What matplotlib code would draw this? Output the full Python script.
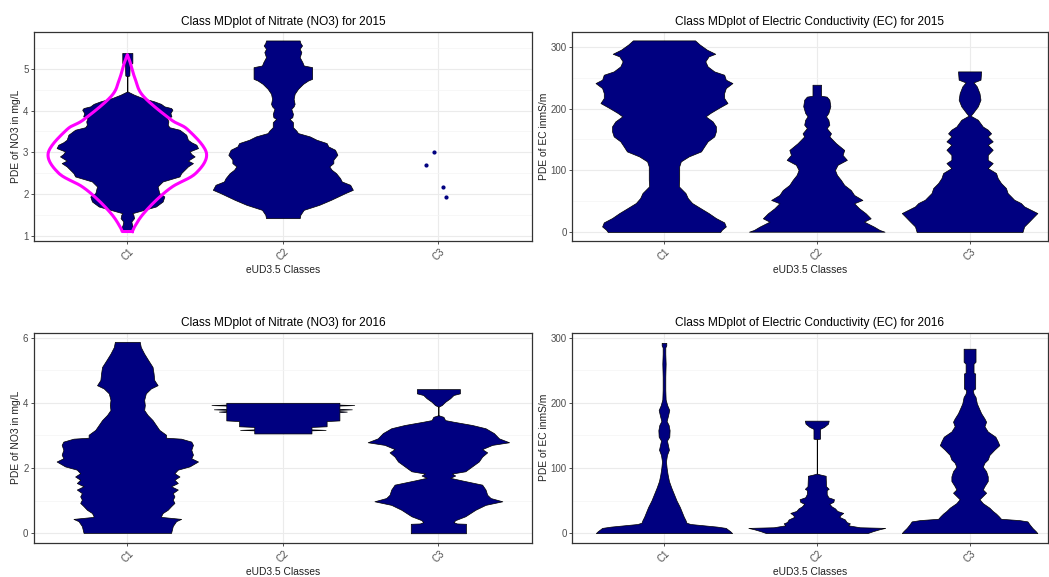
import numpy as np
import matplotlib
matplotlib.use('Agg')
import matplotlib.pyplot as plt

plt.rcParams['font.family'] = ['Liberation Sans', 'DejaVu Sans']

# class labels on the x axis
classes = ['C1', 'C2', 'C3']

# mirrored density profiles: y level and density (half width, arbitrary units)
# Nitrate 2015
no3_15_c1_y = [1.12, 1.18, 1.26, 1.34, 1.42, 1.50, 1.54, 1.62, 1.70, 1.82, 1.94, 2.02, 2.18, 2.30,
               2.36, 2.42, 2.50, 2.58, 2.66, 2.74, 2.80, 2.90, 2.96, 3.02, 3.10, 3.18, 3.24, 3.30,
               3.42, 3.54, 3.60, 3.66, 3.74, 3.82, 3.86, 3.94, 4.02, 4.06, 4.10, 4.16, 4.22, 4.30,
               4.38, 4.46, 4.82, 4.84, 5.10, 5.14, 5.38]
no3_15_c1_d = [14, 18, 14, 12, 20, 18, 15, 50, 85, 105, 110, 95, 90, 105,
               130, 155, 160, 170, 180, 195, 180, 200, 190, 185, 210, 205, 190, 180,
               175, 155, 125, 120, 122, 118, 131, 128, 134, 130, 110, 100, 80, 45,
               20, 0, 0, 6, 7, 15, 15]
no3_15_c2_y = [1.42, 1.50, 1.62, 1.74, 1.86, 2.02, 2.10, 2.22, 2.30, 2.38, 2.50, 2.58, 2.66, 2.74,
               2.82, 2.94, 3.06, 3.14, 3.22, 3.30, 3.38, 3.46, 3.52, 3.60, 3.72, 3.80, 3.84, 3.92,
               4.04, 4.10, 4.16, 4.28, 4.40, 4.52, 4.64, 4.72, 4.76, 5.04, 5.08, 5.16, 5.28, 5.40,
               5.48, 5.56, 5.62, 5.68]
no3_15_c2_d = [50, 52, 62, 108, 143, 185, 208, 200, 175, 170, 158, 145, 138, 150,
               150, 162, 155, 135, 130, 100, 80, 45, 40, 30, 30, 20, 28, 30,
               25, 32, 35, 32, 35, 45, 60, 75, 87, 87, 62, 58, 50, 55,
               50, 57, 52, 50]
no3_15_c3_pts = [3.01, 2.70, 2.16, 1.92]
no3_15_c3_jit = [-0.03, -0.08, 0.03, 0.05]

# normal density sketched over C1 of 2015
pdf_y = [1.10, 1.22, 1.50, 1.86, 2.18, 2.50, 2.98, 3.54, 3.78, 4.34, 4.74, 5.14, 5.34]
pdf_d = [15, 22, 45, 87, 135, 204, 235, 180, 130, 48, 24, 9, 0]

# Electric conductivity 2015
ec_15_c1_y = [0, 3.7, 9, 15.6, 22.6, 30.7, 38.8, 47, 55, 63.2, 74, 84.8, 95.6, 106.4, 114.5,
              122.6, 130.7, 139, 147, 155, 163.2, 171.3, 179.4, 187.5, 193, 201, 209.1, 217.2,
              225.3, 233.4, 241.5, 247, 255, 260.4, 268.5, 276.7, 284.8, 289, 295.6, 304, 310.7]
ec_15_c1_d = [170, 175, 187, 182, 157, 135, 110, 85, 72, 65, 45, 46, 46, 46, 51,
              75, 112, 122, 132, 152, 157, 157, 147, 126, 140, 165, 192, 182,
              182, 187, 207, 187, 182, 152, 132, 125, 135, 155, 130, 108, 94]
ec_15_c2_y = [0.5, 3.3, 8.7, 16.8, 22.2, 30.3, 38.5, 46.6, 52, 60, 68, 76.3, 84.4, 92.5, 100.6,
              109, 117, 125, 133, 144, 155, 160, 168.5, 174, 182, 187.5, 193, 204, 214.5, 219.5,
              221, 238.8]
ec_15_c2_d = [205, 190, 173, 143, 163, 148, 128, 113, 138, 113, 103, 83, 73, 61, 55,
              63, 91, 78, 83, 58, 38, 43, 30, 38, 35, 28, 35, 41, 38, 30,
              13, 13]
ec_15_c3_y = [0, 9, 17, 25.3, 30.7, 36.1, 41.5, 47, 52.3, 57.8, 63.2, 71.3, 79.4, 87.5, 95.6,
              103.7, 111.8, 117, 125, 133.4, 141.5, 147, 155, 160, 166, 171, 182, 188.6, 193,
              203.7, 214.5, 225, 236, 242.6, 247, 260.4]
ec_15_c3_d = [160, 165, 180, 195, 205, 185, 165, 155, 135, 125, 115, 110, 95, 85, 80,
              55, 70, 55, 55, 70, 55, 70, 55, 65, 55, 40, 25, 3, 10,
              25, 33, 30, 22, 12, 33, 35]

# Nitrate 2016
no3_16_c1_y = [0.01, 0.22, 0.37, 0.44, 0.50, 0.52, 0.62, 0.72, 0.83, 0.93, 1.03, 1.13, 1.23,
               1.34, 1.44, 1.54, 1.64, 1.74, 1.84, 1.95, 2.05, 2.20, 2.30, 2.41, 2.56, 2.71,
               2.81, 2.90, 2.93, 3.02, 3.17, 3.32, 3.47, 3.63, 3.78, 3.93, 4.09, 4.29, 4.44,
               4.54, 4.70, 4.90, 5.10, 5.31, 5.51, 5.71, 5.87]
no3_16_c1_d = [130, 135, 145, 160, 102, 100, 105, 120, 130, 140, 135, 140, 135,
               150, 130, 150, 140, 155, 140, 150, 185, 210, 190, 195, 190, 195,
               190, 160, 115, 115, 95, 85, 75, 60, 50, 52, 50, 55, 70,
               90, 80, 78, 75, 62, 50, 40, 37]
no3_16_c2_y = [3.06, 3.155, 3.17, 3.185, 3.26, 3.28, 3.44, 3.46, 3.715, 3.73, 3.745, 3.785,
               3.80, 3.815, 3.915, 3.93, 3.945, 4.00]
no3_16_c2_d = [85, 85, 127, 85, 85, 130, 130, 168, 168, 190, 168, 168,
               205, 168, 168, 212, 168, 168]
no3_16_c3_y = [0.0, 0.29, 0.30, 0.34, 0.40, 0.52, 0.62, 0.72, 0.87, 0.98, 1.08, 1.18, 1.34,
               1.49, 1.62, 1.70, 1.77, 1.83, 1.90, 2.05, 2.20, 2.35, 2.48, 2.58, 2.71, 2.79,
               2.91, 3.07, 3.22, 3.32, 3.42, 3.47, 3.57, 3.62, 3.88, 3.93, 4.03, 4.14, 4.24,
               4.29, 4.42]
no3_16_c3_d = [82, 82, 55, 45, 50, 80, 95, 110, 140, 190, 155, 145, 140,
               130, 70, 35, 50, 40, 80, 100, 120, 130, 145, 130, 160, 210,
               180, 165, 140, 100, 45, 20, 15, 0, 0, 10, 20, 35, 45,
               64, 64]

# Electric conductivity 2016
ec_16_c1_y = [0, 3, 6, 8, 10, 12, 14, 16, 20, 25, 30, 40, 50, 60, 70, 80, 90, 100, 110, 120,
              128, 135, 142, 148, 158, 166, 172, 180, 189, 196, 205, 220, 240, 260, 275, 285,
              288, 292]
ec_16_c1_d = [206, 200, 192, 187, 160, 120, 80, 68, 65, 60, 56, 48, 38, 30, 22, 15, 11, 8, 6, 9,
              15, 12, 9, 16, 17, 14, 8, 12, 16, 10, 5, 4, 4, 5, 4, 4,
              7, 7]
ec_16_c2_y = [0, 3, 6, 8, 9, 12, 15, 17, 21, 25, 28, 31, 34, 38, 41, 45, 48, 52, 55, 60, 66,
              68, 72, 85, 88, 90, 91.5, 144, 145, 160, 163, 168, 172.6]
ec_16_c2_d = [153, 170, 190, 207, 130, 95, 100, 90, 85, 68, 72, 80, 62, 55, 45, 38, 50, 52, 35,
              30, 30, 36, 28, 27, 27, 10, 0, 0, 10, 10, 22, 34, 36]
ec_16_c3_y = [0, 3, 8, 13, 18, 20, 22, 26, 30, 34, 39, 46, 52, 57, 62, 67, 72, 80, 87, 95,
              102, 108, 113, 120, 128, 135, 141, 148, 156, 164, 171, 176, 184, 192, 199,
              209, 214, 219.5, 222, 245, 246, 260, 263, 283]
ec_16_c3_d = [205, 200, 190, 182, 175, 150, 95, 88, 80, 70, 60, 40, 30, 40, 50, 40, 45, 55,
              55, 50, 40, 45, 55, 60, 75, 90, 85, 78, 55, 45, 50, 45, 35, 28, 22,
              18, 12, 10, 17, 17, 12, 12, 18, 18]

NAVY = '#000080'
DENS_SCALE = 1 / 462.0   # density units -> category widths


def catmull_rom(pts, n=16):
    pts = np.asarray(pts, dtype=float)
    P = np.vstack([pts[0], pts, pts[-1]])
    out = []
    t = np.linspace(0, 1, n, endpoint=False)[:, None]
    for i in range(1, len(P) - 2):
        p0, p1, p2, p3 = P[i - 1], P[i], P[i + 1], P[i + 2]
        out.append(0.5 * (2 * p1 + (-p0 + p2) * t + (2 * p0 - 5 * p1 + 4 * p2 - p3) * t ** 2
                          + (-p0 + 3 * p1 - 3 * p2 + p3) * t ** 3))
    out.append(P[-2][None])
    return np.vstack(out)


def violin(ax, pos, ys, ds):
    ys = np.asarray(ys, dtype=float)
    hw = np.asarray(ds, dtype=float) * DENS_SCALE
    ax.fill_betweenx(ys, pos - hw, pos + hw, facecolor=NAVY, edgecolor='black',
                     linewidth=0.5, zorder=3)


def style_axes(ax, title, ylabel, ylim, major, minor, xright):
    ax.set_xlim(0.4, xright)
    ax.set_ylim(*ylim)
    ax.set_xticks([1, 2, 3])
    ax.set_xticklabels(classes, rotation=45, ha='center', va='top')
    ax.set_yticks(major)
    ax.set_yticks(minor, minor=True)
    ax.grid(True, which='major', color='#EBEBEB', linewidth=0.8, zorder=0)
    ax.grid(True, which='minor', axis='y', color='#F4F4F4', linewidth=0.5, zorder=0)
    ax.tick_params(which='major', length=2.5, width=0.6, color='#333333', pad=1.5,
                   labelsize=7, labelcolor='#4D4D4D')
    ax.tick_params(which='minor', length=0)
    for sp in ax.spines.values():
        sp.set_color('#333333')
        sp.set_linewidth(0.9)
    ax.set_axisbelow(True)
    ax.set_title(title, fontsize=8.6, pad=5)
    ax.set_xlabel('eUD3.5 Classes', fontsize=7.4, labelpad=2, color='#222222')
    ax.set_ylabel(ylabel, fontsize=7.4, labelpad=1.5, color='#222222')


W, H = 1049, 577
fig = plt.figure(figsize=(W / 100, H / 100), dpi=100)


def box(x0, y0, x1, y1):
    return [x0 / W, 1 - y1 / H, (x1 - x0) / W, (y1 - y0) / H]


ax1 = fig.add_axes(box(34, 31.7, 531.7, 240.7))
ax2 = fig.add_axes(box(572.3, 31.7, 1047.5, 240.7))
ax3 = fig.add_axes(box(34, 332.7, 531.7, 542.7))
ax4 = fig.add_axes(box(572.3, 332.7, 1047.5, 542.7))

# Nitrate 2015
violin(ax1, 1, no3_15_c1_y, no3_15_c1_d)
violin(ax1, 2, no3_15_c2_y, no3_15_c2_d)
ax1.scatter(3 + np.array(no3_15_c3_jit), no3_15_c3_pts, s=4, color=NAVY, zorder=3)
right = np.column_stack([1 + np.array(pdf_d) * DENS_SCALE, pdf_y])
right = catmull_rom(right)
left = right[::-1].copy()
left[:, 0] = 2 - left[:, 0]
outline = np.vstack([right, left[1:], right[:1]])
ax1.plot(outline[:, 0], outline[:, 1], color='#FF00FF', linewidth=2.2, zorder=4,
         solid_joinstyle='round')
style_axes(ax1, 'Class MDplot of Nitrate (NO3) for 2015', 'PDE of NO3 in mg/L',
           (0.88, 5.89), [1, 2, 3, 4, 5], [1.5, 2.5, 3.5, 4.5, 5.5], 3.6)

# Electric conductivity 2015
violin(ax2, 1, ec_15_c1_y, ec_15_c1_d)
violin(ax2, 2, ec_15_c2_y, ec_15_c2_d)
violin(ax2, 3, ec_15_c3_y, ec_15_c3_d)
style_axes(ax2, 'Class MDplot of Electric Conductivity (EC) for 2015', 'PDE of EC inmS/m',
           (-14.1, 324.8), [0, 100, 200, 300], [50, 150, 250], 3.51)

# Nitrate 2016
violin(ax3, 1, no3_16_c1_y, no3_16_c1_d)
violin(ax3, 2, no3_16_c2_y, no3_16_c2_d)
violin(ax3, 3, no3_16_c3_y, no3_16_c3_d)
style_axes(ax3, 'Class MDplot of Nitrate (NO3) for 2016', 'PDE of NO3 in mg/L',
           (-0.29, 6.15), [0, 2, 4, 6], [1, 3, 5], 3.6)

# Electric conductivity 2016
violin(ax4, 1, ec_16_c1_y, ec_16_c1_d)
violin(ax4, 2, ec_16_c2_y, ec_16_c2_d)
violin(ax4, 3, ec_16_c3_y, ec_16_c3_d)
style_axes(ax4, 'Class MDplot of Electric Conductivity (EC) for 2016', 'PDE of EC inmS/m',
           (-14.7, 307.6), [0, 100, 200, 300], [50, 150, 250], 3.51)

fig.savefig('out.png', dpi=100)
